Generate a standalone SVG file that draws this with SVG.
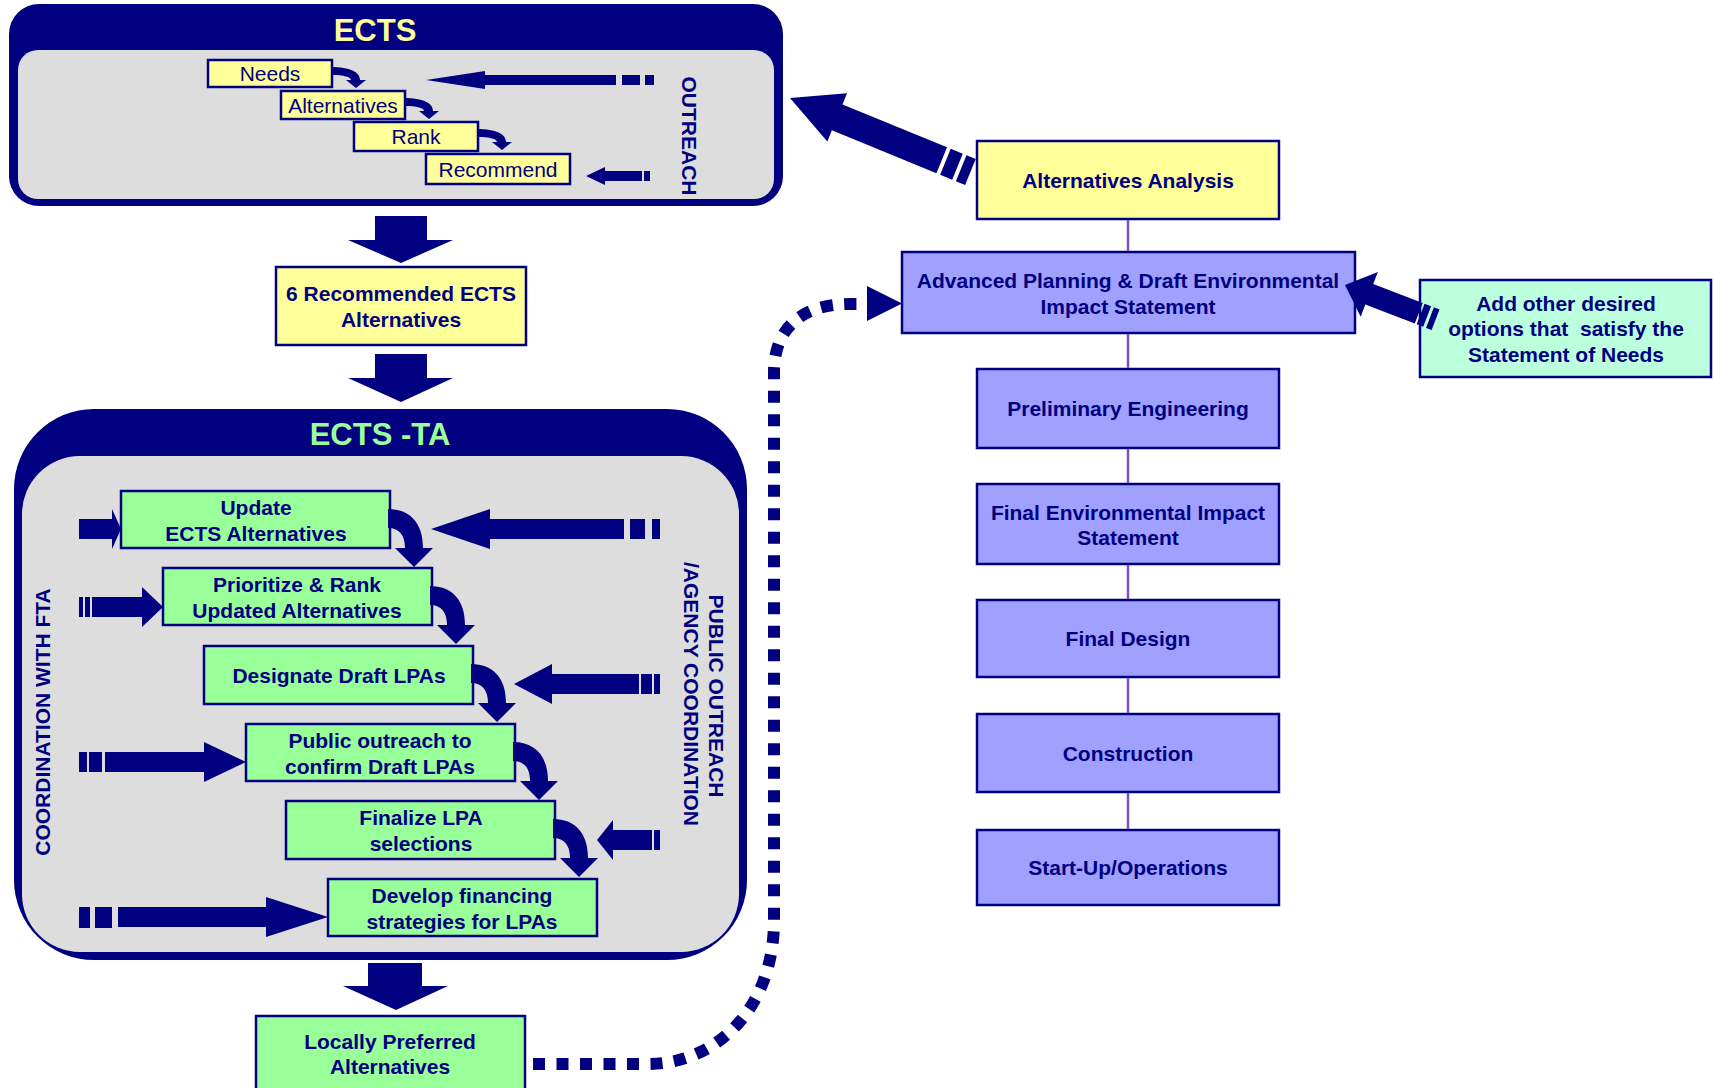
<svg xmlns="http://www.w3.org/2000/svg" width="1714" height="1088" viewBox="0 0 1714 1088">
<style>
.navy{fill:#000080}
.box{stroke:#000080;stroke-width:2.5}
.y{fill:#FFFF99}.g{fill:#99FF99}.p{fill:#A0A0FF}.m{fill:#BBFFDD}
.t{font-family:"Liberation Sans",Arial,sans-serif;font-weight:bold;font-size:21px;fill:#000080;text-anchor:middle}
.r{font-weight:normal}
.title{font-family:"Liberation Sans",Arial,sans-serif;font-weight:bold;font-size:31px;text-anchor:middle}
.link{stroke:#7B52C9;stroke-width:2.5}
.dots{fill:none;stroke:#000080;stroke-width:12;stroke-dasharray:12 11.5}
</style>
<defs>
<path id="cb" d="M-2,18 C20,18 33,32 33,57 L43,57 L24,76 L5,57 L15,57 C15,45 10,37 -2,37 Z"/>
<path id="cs" d="M-1,7 C18,7 28,12 28,20 L34,20 L24,28 L14,20 L19,20 C19,17 12,15 -1,15 Z"/>
</defs>
<rect width="1714" height="1088" fill="#FFFFFF"/>

<!-- containers -->
<g id="ects">
<rect x="9" y="4" width="774" height="202" rx="30" class="navy"/>
<rect x="18" y="50" width="756" height="149" rx="20" fill="#DDDDDD"/>
<text x="375" y="41" class="title" fill="#FFFF99">ECTS</text>
<text transform="translate(689,136) rotate(90)" y="7.5" class="t">OUTREACH</text>
</g>
<g id="ects-ta">
<rect x="14" y="409" width="733" height="551" rx="80" class="navy"/>
<rect x="22" y="456" width="717" height="496" rx="58" fill="#DDDDDD"/>
<text x="380" y="445" class="title" fill="#99FF99">ECTS -TA</text>
<text transform="translate(42,722) rotate(-90)" y="7.5" class="t">COORDINATION WITH FTA</text>
<text transform="translate(716,696) rotate(90)" y="7.5" class="t">PUBLIC OUTREACH</text>
<text transform="translate(691,694) rotate(90)" y="7.5" class="t">/AGENCY COORDINATION</text>
</g>

<!-- nodes -->
<g id="needs"><rect x="208" y="60" width="124" height="27" class="box y"/><text x="270" y="81" class="t r">Needs</text></g>
<g id="alternatives"><rect x="281" y="91" width="124" height="28" class="box y"/><text x="343" y="112.5" class="t r">Alternatives</text></g>
<g id="rank"><rect x="354" y="122" width="124" height="29" class="box y"/><text x="416" y="144" class="t r">Rank</text></g>
<g id="recommend"><rect x="426" y="154" width="144" height="30" class="box y"/><text x="498" y="176.5" class="t r">Recommend</text></g>

<g id="six-recommended"><rect x="276" y="267" width="250" height="78" class="box y"/><text x="401" y="300.5" class="t">6 Recommended ECTS</text><text x="401" y="326.5" class="t">Alternatives</text></g>

<g id="update"><rect x="121" y="491" width="269" height="57" class="box g"/><text x="256" y="515" class="t">Update</text><text x="256" y="541" class="t">ECTS Alternatives</text></g>
<g id="prioritize"><rect x="163" y="568" width="269" height="57" class="box g"/><text x="297" y="592" class="t">Prioritize &amp; Rank</text><text x="297" y="618" class="t">Updated Alternatives</text></g>
<g id="designate"><rect x="204" y="646" width="269" height="58" class="box g"/><text x="339" y="682.5" class="t">Designate Draft LPAs</text></g>
<g id="public-outreach"><rect x="246" y="724" width="269" height="57" class="box g"/><text x="380" y="748" class="t">Public outreach to</text><text x="380" y="774" class="t">confirm Draft LPAs</text></g>
<g id="finalize"><rect x="286" y="801" width="269" height="58" class="box g"/><text x="421" y="825" class="t">Finalize LPA</text><text x="421" y="851" class="t">selections</text></g>
<g id="financing"><rect x="328" y="879" width="269" height="57" class="box g"/><text x="462" y="903" class="t">Develop financing</text><text x="462" y="929" class="t">strategies for LPAs</text></g>
<g id="lpa"><rect x="256" y="1016" width="269" height="80" class="box g"/><text x="390" y="1048.5" class="t">Locally Preferred</text><text x="390" y="1074" class="t">Alternatives</text></g>

<g id="alt-analysis"><rect x="977" y="141" width="302" height="78" class="box y"/><text x="1128" y="187.5" class="t">Alternatives Analysis</text></g>
<g id="adv-planning"><rect x="902" y="252" width="453" height="81" class="box p"/><text x="1128" y="288" class="t">Advanced Planning &amp; Draft Environmental</text><text x="1128" y="314" class="t">Impact Statement</text></g>
<g id="prelim"><rect x="977" y="369" width="302" height="79" class="box p"/><text x="1128" y="416" class="t">Preliminary Engineering</text></g>
<g id="feis"><rect x="977" y="484" width="302" height="80" class="box p"/><text x="1128" y="519.5" class="t">Final Environmental Impact</text><text x="1128" y="545" class="t">Statement</text></g>
<g id="final-design"><rect x="977" y="600" width="302" height="77" class="box p"/><text x="1128" y="646" class="t">Final Design</text></g>
<g id="construction"><rect x="977" y="714" width="302" height="78" class="box p"/><text x="1128" y="760.5" class="t">Construction</text></g>
<g id="startup"><rect x="977" y="830" width="302" height="75" class="box p"/><text x="1128" y="875" class="t">Start-Up/Operations</text></g>
<g id="add-options"><rect x="1420" y="280" width="291" height="97" class="box m"/><text x="1566" y="311" class="t">Add other desired</text><text x="1566" y="336" class="t" xml:space="preserve">options that  satisfy the</text><text x="1566" y="362" class="t">Statement of Needs</text></g>

<!-- connectors -->
<g id="connectors">
<line x1="1128" y1="220" x2="1128" y2="251" class="link"/>
<line x1="1128" y1="334" x2="1128" y2="368" class="link"/>
<line x1="1128" y1="449" x2="1128" y2="483" class="link"/>
<line x1="1128" y1="565" x2="1128" y2="599" class="link"/>
<line x1="1128" y1="678" x2="1128" y2="713" class="link"/>
<line x1="1128" y1="793" x2="1128" y2="829" class="link"/>

<g class="navy">
<use href="#cs" x="332" y="60"/>
<use href="#cs" x="405" y="91"/>
<use href="#cs" x="478" y="122"/>
<polygon points="426,80 485,71 485,75 616,75 616,85 485,85 485,89"/>
<rect x="622" y="75" width="18" height="10"/><rect x="645" y="75" width="9" height="10"/>
<polygon points="586,176 605,167 605,171 642,171 642,181 605,181 605,185"/>
<rect x="644" y="171" width="6" height="10"/>

<polygon points="375,216 427,216 427,240 453,240 401,263 348,240 375,240"/>
<polygon points="375,354 427,354 427,378 453,378 401,402 348,378 375,378"/>
<polygon points="368,963 422,963 422,986 448,986 396,1010 343,986 368,986"/>

<use href="#cb" x="390" y="491"/>
<use href="#cb" x="432" y="568"/>
<use href="#cb" x="473" y="646"/>
<use href="#cb" x="515" y="724"/>
<use href="#cb" x="555" y="801"/>

<polygon points="79,519 112,519 112,509 121,529 112,549 112,539 79,539"/>
<rect x="79" y="597" width="4" height="20"/><rect x="85" y="597" width="5" height="20"/>
<polygon points="92,597 142,597 142,587 163,607 142,627 142,617 92,617"/>
<rect x="79" y="752" width="8" height="20"/><rect x="89" y="752" width="13" height="20"/>
<polygon points="105,752 204,752 204,742 246,762 204,782 204,772 105,772"/>
<rect x="79" y="907" width="11" height="21"/><rect x="95" y="907" width="17" height="21"/>
<polygon points="118,907 266,907 266,897 328,917 266,937 266,927 118,927"/>

<polygon points="431,529 490,509 490,519 624,519 624,539 490,539 490,549"/>
<rect x="630" y="519" width="15" height="20"/><rect x="652" y="519" width="8" height="20"/>
<polygon points="514,684 552,664 552,674 639,674 639,694 552,694 552,704"/>
<rect x="641" y="674" width="11" height="20"/><rect x="654" y="674" width="6" height="20"/>
<polygon points="597,840 613,820 613,830 652,830 652,850 613,850 613,860"/>
<rect x="654" y="830" width="6" height="20"/>

<g transform="translate(790,98) rotate(22.3)">
<polygon points="0,0 51,-26 51,-14 164,-14 164,14 51,14 51,26"/>
<rect x="168" y="-14" width="13" height="28"/><rect x="185" y="-14" width="10" height="28"/>
</g>
<g transform="translate(1345,285) rotate(21)">
<polygon points="0,0 26,-24 26,-11 79,-11 79,11 26,11 26,24"/>
<rect x="81" y="-11" width="7" height="22"/><rect x="91" y="-11" width="6" height="22"/>
</g>
<polygon points="867,286 902,303.5 867,321"/>
</g>
<path class="dots" d="M533,1064 H648 C715,1064 774,1010 774,920 V372 C774,330 800,304 850,304 H868"/>
</g>
</svg>
